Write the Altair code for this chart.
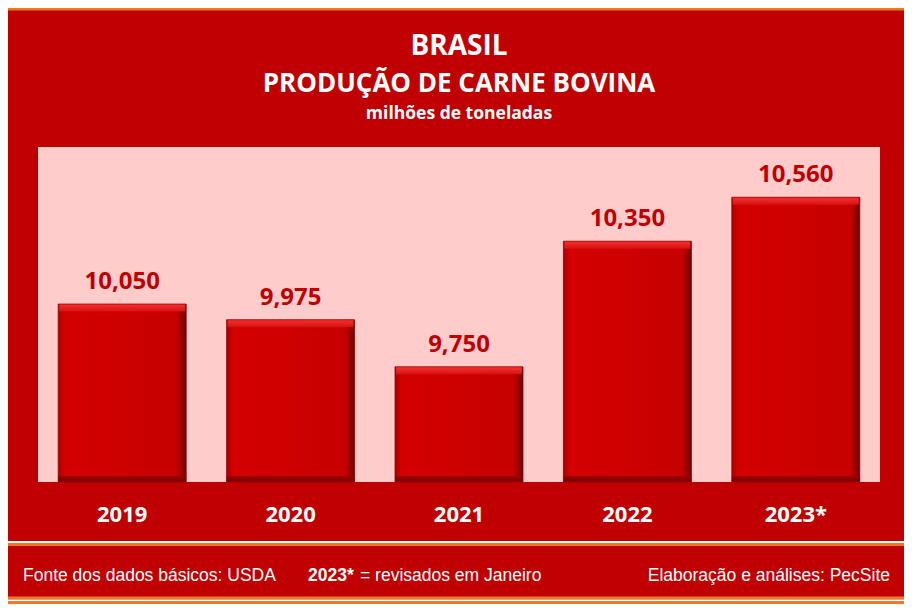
import altair as alt
import pandas as pd

# ---- data ----
years = ["2019", "2020", "2021", "2022", "2023*"]
values = [10.050, 9.975, 9.750, 10.350, 10.560]
Y_MIN, Y_MAX = 9.2, 10.8

title_lines = ["BRASIL", "PRODUÇÃO DE CARNE BOVINA", "milhões de toneladas"]
footer_left = "Fonte dos dados básicos: USDA"
footer_mid_bold = "2023*"
footer_mid = "= revisados em Janeiro"
footer_right = "Elaboração e análises: PecSite"

RED_BG = "#C00000"
PINK = "#FFCCCC"
ORANGE = "#EE7722"
LABEL_RED = "#C00000"

W, H = 842, 335

df = pd.DataFrame({"ano": years, "valor": values})

x = alt.X("ano:N", sort=years,
          scale=alt.Scale(paddingInner=0.24, paddingOuter=0.12),
          axis=alt.Axis(title=None, labelAngle=0, domain=False, ticks=False, tickSize=0,
                        labelPadding=39, labelBaseline="alphabetic",
                        labelColor="white", labelFont="Open Sans", labelFontWeight="bold",
                        labelFontSize=22))
y = alt.Y("valor:Q", scale=alt.Scale(domain=[Y_MIN, Y_MAX], nice=False, zero=False),
          axis=None)

base = alt.Chart(df)

bar_grad = alt.Gradient(
    gradient="linear", x1=0, x2=1, y1=0, y2=0,
    stops=[alt.GradientStop(offset=0, color="#A80000"),
           alt.GradientStop(offset=0.05, color="#D40000"),
           alt.GradientStop(offset=0.5, color="#CE0000"),
           alt.GradientStop(offset=0.93, color="#C60000"),
           alt.GradientStop(offset=1, color="#6A0000")])

bars = base.mark_bar(fill=bar_grad, stroke="#8A0000", strokeWidth=0.8).encode(
    x=x, y=y, y2=alt.datum(Y_MIN))

top_grad = alt.Gradient(
    gradient="linear", x1=0, x2=0, y1=0, y2=1,
    stops=[alt.GradientStop(offset=0, color="#F23030"),
           alt.GradientStop(offset=1, color="#D81010")])
top_edge = base.mark_tick(color=top_grad, fill=top_grad, thickness=7, size=126,
                          yOffset=4, opacity=1).encode(x=x, y=y)

bot_grad = alt.Gradient(
    gradient="linear", x1=0, x2=0, y1=0, y2=1,
    stops=[alt.GradientStop(offset=0, color="#A00000"),
           alt.GradientStop(offset=1, color="#780000")])
bottom_edge = base.mark_bar(fill=bot_grad, opacity=1).encode(
    x=x, y=alt.value(H - 6), y2=alt.value(H - 0.5))

labels = base.transform_calculate(
    rotulo="replace(format(datum.valor, '.3f'), '.', ',')"
).mark_text(dy=-15, baseline="alphabetic", font="Open Sans", fontWeight="bold",
            fontSize=24, color=LABEL_RED).encode(x=x, y=y, text="rotulo:N")

one = alt.Data(values=[{"k": 0}])

def stripe(ypix, color, width):
    return alt.Chart(one).mark_rule(color=color, strokeWidth=width).encode(
        x=alt.value(-30), x2=alt.value(W + 24), y=alt.value(ypix))

stripes = [
    stripe(-138, ORANGE, 3),
    stripe(395, "white", 2),
    stripe(397.5, ORANGE, 3),
    stripe(451, ORANGE, 3),
    stripe(453.5, "white", 2),
    stripe(456, ORANGE, 3),
]

def txt(s, xp, yp, size, weight="bold", align="center", font="Open Sans"):
    return alt.Chart(alt.Data(values=[{"t": s}])).mark_text(
        font=font, fontSize=size, fontWeight=weight, color="white",
        align=align, baseline="alphabetic").encode(
        x=alt.value(xp), y=alt.value(yp), text="t:N")

titles = [
    txt(title_lines[0], 421, -92, 28),
    txt(title_lines[1], 421, -55, 26),
    txt(title_lines[2], 421, -28, 17.5),
]

FOOT_FONT = "Liberation Sans, Arial"
FS = 17.5
footer = [
    txt(footer_left, -15, 434, FS, weight="normal", align="left", font=FOOT_FONT),
    txt(footer_mid_bold, 270, 434, FS, weight="bold", align="left", font=FOOT_FONT),
    txt(footer_mid, 322, 434, FS, weight="normal", align="left", font=FOOT_FONT),
    txt(footer_right, 852, 434, FS, weight="normal", align="right", font=FOOT_FONT),
]

chart = alt.layer(
    bars, top_edge, bottom_edge, labels, *stripes, *titles, *footer
).properties(
    width=W, height=H,
    background=RED_BG,
    padding={"left": 30, "top": 139, "right": 24, "bottom": 122},
    autosize=alt.AutoSizeParams(type="none"),
).configure_view(
    fill=PINK, stroke=None
)

chart.save("out.html", embed_options={"renderer": "svg", "actions": False})
